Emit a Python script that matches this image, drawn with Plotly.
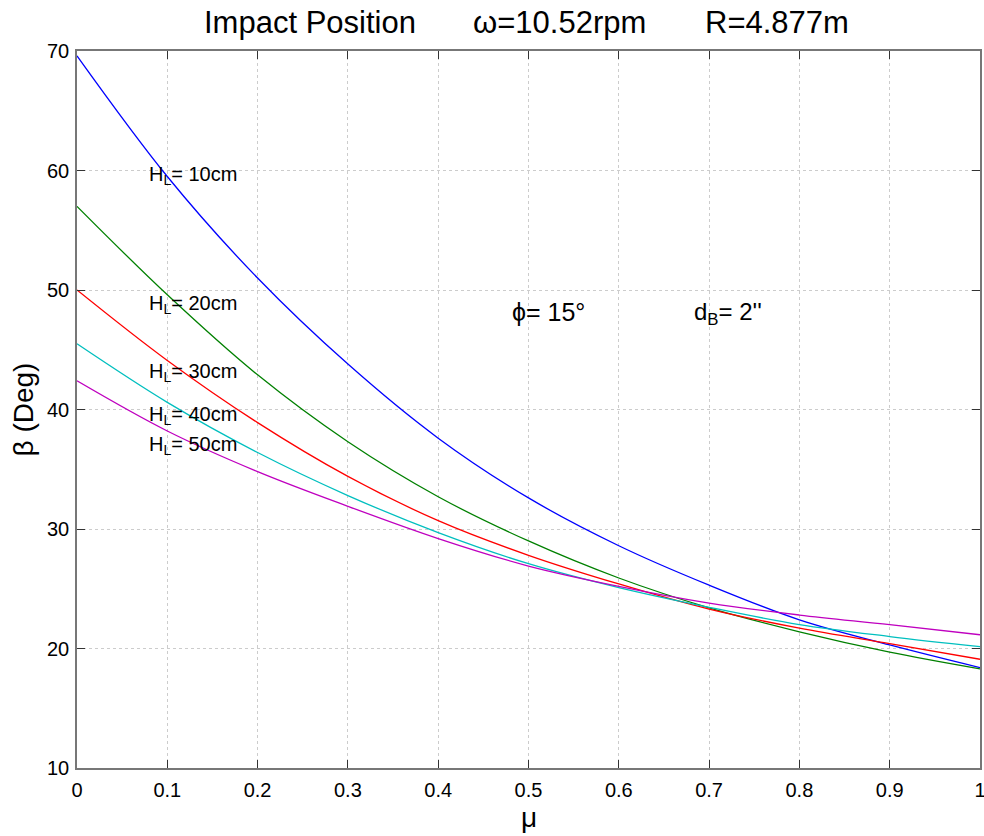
import plotly.graph_objects as go

mu = [0.0, 0.1, 0.2, 0.3, 0.4, 0.5, 0.6, 0.7, 0.8, 0.9, 1.0]
beta_h10 = [69.6, 59.5, 51.0, 43.8, 37.6, 32.6, 28.6, 25.3, 22.4, 20.3, 18.4]
beta_h20 = [57.0, 49.6, 42.9, 37.3, 32.7, 29.0, 25.9, 23.4, 21.4, 19.7, 18.3]
beta_h30 = [50.0, 44.1, 38.9, 34.4, 30.7, 27.8, 25.4, 23.3, 21.7, 20.4, 19.1]
beta_h40 = [45.5, 40.6, 36.4, 32.8, 29.7, 27.1, 25.1, 23.45, 22.0, 21.0, 20.15]
beta_h50 = [42.4, 38.2, 34.8, 31.9, 29.2, 26.9, 25.2, 23.8, 22.8, 22.0, 21.15]

series = [
    ("H_L=10cm", beta_h10, "#0000FF"),
    ("H_L=20cm", beta_h20, "#008000"),
    ("H_L=30cm", beta_h30, "#FF0000"),
    ("H_L=40cm", beta_h40, "#00BFBF"),
    ("H_L=50cm", beta_h50, "#BF00BF"),
]

labels = ["H<sub>L</sub>= 10cm", "H<sub>L</sub>= 20cm", "H<sub>L</sub>= 30cm",
          "H<sub>L</sub>= 40cm", "H<sub>L</sub>= 50cm"]
label_y = [59.6, 48.8, 43.1, 39.5, 37.0]

title_parts = ["Impact Position", "ω=10.52rpm", "R=4.877m"]
title_x = [0.1384, 0.4363, 0.6932]

x_ticks = [0, 0.1, 0.2, 0.3, 0.4, 0.5, 0.6, 0.7, 0.8, 0.9, 1]
x_ticklabels = ["0", "0.1", "0.2", "0.3", "0.4", "0.5", "0.6", "0.7", "0.8", "0.9", "1"]
y_ticks = [10, 20, 30, 40, 50, 60, 70]

fig = go.Figure()
for name, vals, color in series:
    fig.add_trace(go.Scatter(x=mu, y=vals, mode="lines", name=name,
                             line=dict(color=color, width=1.3, shape="spline", smoothing=1.0)))

font_family = "Liberation Sans, Arial, sans-serif"
anns = []
for txt, xv in zip(title_parts, title_x):
    anns.append(dict(x=xv, y=1.0404, xref="paper", yref="paper", text=txt, showarrow=False,
                     xanchor="left", yanchor="middle",
                     font=dict(size=31, color="black", family=font_family)))
for txt, yv in zip(labels, label_y):
    anns.append(dict(x=0.0775, y=yv, xref="x", yref="y", text=txt, showarrow=False,
                     xanchor="left", yanchor="middle",
                     font=dict(size=20, color="black", family=font_family)))
anns.append(dict(x=0.4795, y=48.2, xref="x", yref="y", text="ϕ= 15°", showarrow=False,
                 xanchor="left", yanchor="middle", font=dict(size=25, color="black", family=font_family)))
anns.append(dict(x=0.681, y=48.0, xref="x", yref="y", text="d<sub>B</sub>= 2''", showarrow=False,
                 xanchor="left", yanchor="middle", font=dict(size=24, color="black", family=font_family)))
anns.append(dict(x=-0.0587, y=0.5, xref="paper", yref="paper", text="β (Deg)", showarrow=False,
                 textangle=-90, xanchor="center", yanchor="middle",
                 font=dict(size=28, color="black", family=font_family)))
anns.append(dict(x=0.5, y=-0.0697, xref="paper", yref="paper", text="μ", showarrow=False,
                 xanchor="center", yanchor="middle",
                 font=dict(size=28, color="black", family=font_family)))

fig.update_layout(
    width=984, height=836,
    paper_bgcolor="white", plot_bgcolor="white",
    margin=dict(l=77, r=4, t=51, b=68, autoexpand=False),
    showlegend=False,
    annotations=anns,
    font=dict(family=font_family, color="black"),
)
fig.update_xaxes(range=[0, 1], tickvals=x_ticks, ticktext=x_ticklabels, automargin=False,
                 showline=True, mirror="ticks", linecolor="#777", linewidth=1.5,
                 ticks="inside", ticklen=8, tickcolor="#333",
                 showgrid=True, gridcolor="#cccccc", griddash="dot", gridwidth=1,
                 zeroline=False, tickfont=dict(size=20, family=font_family),
                 ticklabelstandoff=3, ticklabeloverflow="allow")
fig.update_yaxes(range=[10, 70], tickvals=y_ticks, automargin=False,
                 showline=True, mirror="ticks", linecolor="#777", linewidth=1.5,
                 ticks="inside", ticklen=8, tickcolor="#333",
                 showgrid=True, gridcolor="#cccccc", griddash="dot", gridwidth=1,
                 zeroline=False, tickfont=dict(size=20, family=font_family),
                 ticklabelstandoff=2, ticklabeloverflow="allow")

fig.write_html("out.html", config={"displayModeBar": False},
               post_script="document.body.style.margin='0';document.body.style.overflow='hidden';")
